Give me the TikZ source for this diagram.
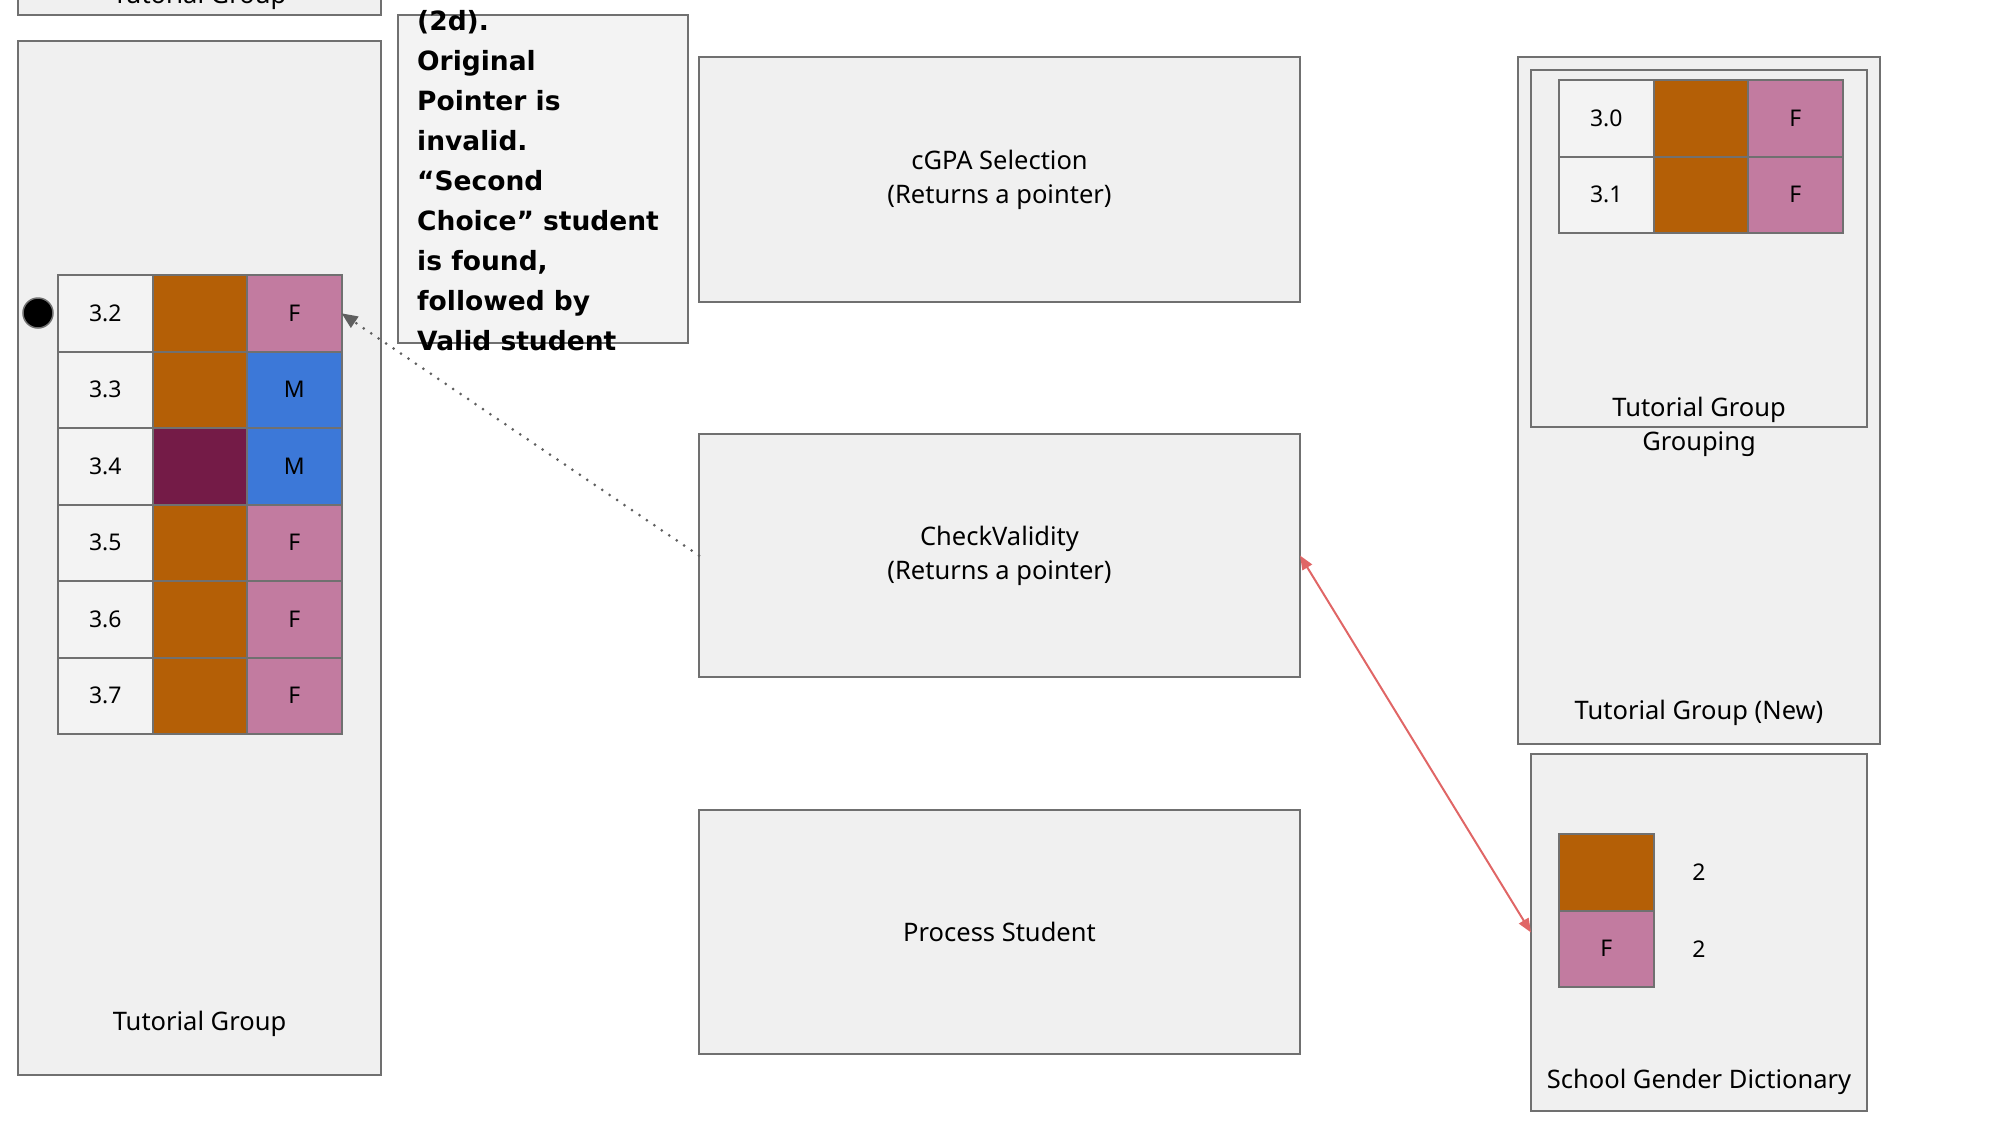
\documentclass[tikz,border=0pt]{standalone}
\usepackage{fontspec}
\setmainfont{Noto Sans}
\newfontfamily\cmtfont{DejaVu Sans}
\usetikzlibrary{arrows.meta}
\definecolor{boxgray}{HTML}{F0F0F0}
\definecolor{cellgray}{HTML}{F3F3F3}
\definecolor{linegray}{HTML}{707070}
\definecolor{brownc}{HTML}{B45F06}
\definecolor{pinkc}{HTML}{C27BA0}
\definecolor{bluec}{HTML}{3C78D8}
\definecolor{purplec}{HTML}{741B47}
\definecolor{redc}{HTML}{E06666}
\definecolor{dotgray}{HTML}{5F5F5F}
\begin{document}
\begin{tikzpicture}[x=1pt,y=-1pt,
  panel/.style={draw=linegray, fill=boxgray, line width=2pt, inner sep=0pt, outer sep=0pt, rectangle, align=center, font=\fontsize{25.5}{34}\selectfont},
  cell/.style={draw=linegray, line width=2pt, inner sep=0pt, outer sep=0pt, minimum width=94.5pt, minimum height=76.5pt, font=\fontsize{23}{28}\selectfont},
  numcell/.style={cell, fill=cellgray},
  browncell/.style={cell, fill=brownc},
  pinkcell/.style={cell, fill=pinkc},
  bluecell/.style={cell, fill=bluec},
  purplecell/.style={cell, fill=purplec},
  lbl/.style={font=\fontsize{25.5}{34}\selectfont, align=center, inner sep=0pt},
  numlbl/.style={font=\fontsize{23}{28}\selectfont, inner sep=0pt},
  dotarrow/.style={draw=dotgray, line width=3pt, dash pattern=on 0pt off 9pt, line cap=round, -{Triangle[length=16pt,width=13pt]}},
  redarrow/.style={draw=redc, line width=2pt, {Triangle[length=14pt,width=11pt]}-{Triangle[length=14pt,width=11pt]}}
]
\useasboundingbox (0,0) rectangle (2000,1125);
\clip (0,0) rectangle (2000,1125);

% left column
\node[panel, minimum width=363pt, minimum height=115pt] (tgtop) at (199.5,-42.5) {};
\node[lbl, anchor=base] (tgtoplbl) at (199.5,3) {Tutorial Group};
\node[panel, minimum width=363pt, minimum height=1034pt] (tg) at (199.5,558) {};
\node[lbl] (tglbl) at (199.5,1024) {Tutorial Group};

\node[numcell] (n32) at (105.25,313.25) {3.2};
\node[browncell] (b32) at (199.75,313.25) {};
\node[pinkcell] (g32) at (294.25,313.25) {F};
\node[numcell] (n33) at (105.25,389.75) {3.3};
\node[browncell] (b33) at (199.75,389.75) {};
\node[bluecell] (g33) at (294.25,389.75) {M};
\node[numcell] (n34) at (105.25,466.25) {3.4};
\node[purplecell] (b34) at (199.75,466.25) {};
\node[bluecell] (g34) at (294.25,466.25) {M};
\node[numcell] (n35) at (105.25,542.75) {3.5};
\node[browncell] (b35) at (199.75,542.75) {};
\node[pinkcell] (g35) at (294.25,542.75) {F};
\node[numcell] (n36) at (105.25,619.25) {3.6};
\node[browncell] (b36) at (199.75,619.25) {};
\node[pinkcell] (g36) at (294.25,619.25) {F};
\node[numcell] (n37) at (105.25,695.75) {3.7};
\node[browncell] (b37) at (199.75,695.75) {};
\node[pinkcell] (g37) at (294.25,695.75) {F};

\node[circle, fill=black, draw=linegray, line width=1.5pt, minimum size=30pt, inner sep=0pt] (dot) at (38,313) {};

% comment box
\node[panel, fill=cellgray, line width=1.5pt, minimum width=290pt, minimum height=328pt] (cmt) at (543,179) {};
\node[anchor=west, align=left, inner sep=0pt, font=\cmtfont\bfseries\fontsize{26.5}{40}\selectfont] (cmttext) at (417,181)
  {(2d).\\Original\\Pointer is\\invalid.\\“Second\\Choice” student\\is found,\\followed by\\Valid student};

% middle column
\node[panel, minimum width=601pt, minimum height=245pt] (cgpa) at (999.5,179.5) {cGPA Selection\\(Returns a pointer)};
\node[panel, minimum width=601pt, minimum height=243pt] (cv) at (999.5,555.5) {CheckValidity\\(Returns a pointer)};
\node[panel, minimum width=601pt, minimum height=244pt] (ps) at (999.5,932) {Process Student};

% right column
\node[panel, minimum width=362pt, minimum height=687pt] (tgn) at (1699,400.5) {};
\node[lbl] (tgnlbl) at (1699,713) {Tutorial Group (New)};
\node[panel, minimum width=336pt, minimum height=357pt] (tgg) at (1699,248.5) {};
\node[lbl] (tgglbl) at (1699,427) {Tutorial Group\\Grouping};

\node[numcell] (n30) at (1606.25,118.25) {3.0};
\node[browncell] (b30) at (1700.75,118.25) {};
\node[pinkcell] (g30) at (1795.25,118.25) {F};
\node[numcell] (n31) at (1606.25,194.75) {3.1};
\node[browncell] (b31) at (1700.75,194.75) {};
\node[pinkcell] (g31) at (1795.25,194.75) {F};

\node[panel, minimum width=336pt, minimum height=357pt] (sgd) at (1699,932.5) {};
\node[lbl] (sgdlbl) at (1699,1082) {School Gender Dictionary};
\node[browncell] (db) at (1606.25,872.25) {};
\node[pinkcell] (dp) at (1606.25,948.75) {F};
\node[numlbl] (dbn) at (1699,872) {2};
\node[numlbl] (dpn) at (1699,949) {2};

% connectors
\draw[dotarrow] (cv.west) -- (g32.east);
\draw[redarrow] (cv.east) -- (sgd.west);
\end{tikzpicture}
\end{document}
